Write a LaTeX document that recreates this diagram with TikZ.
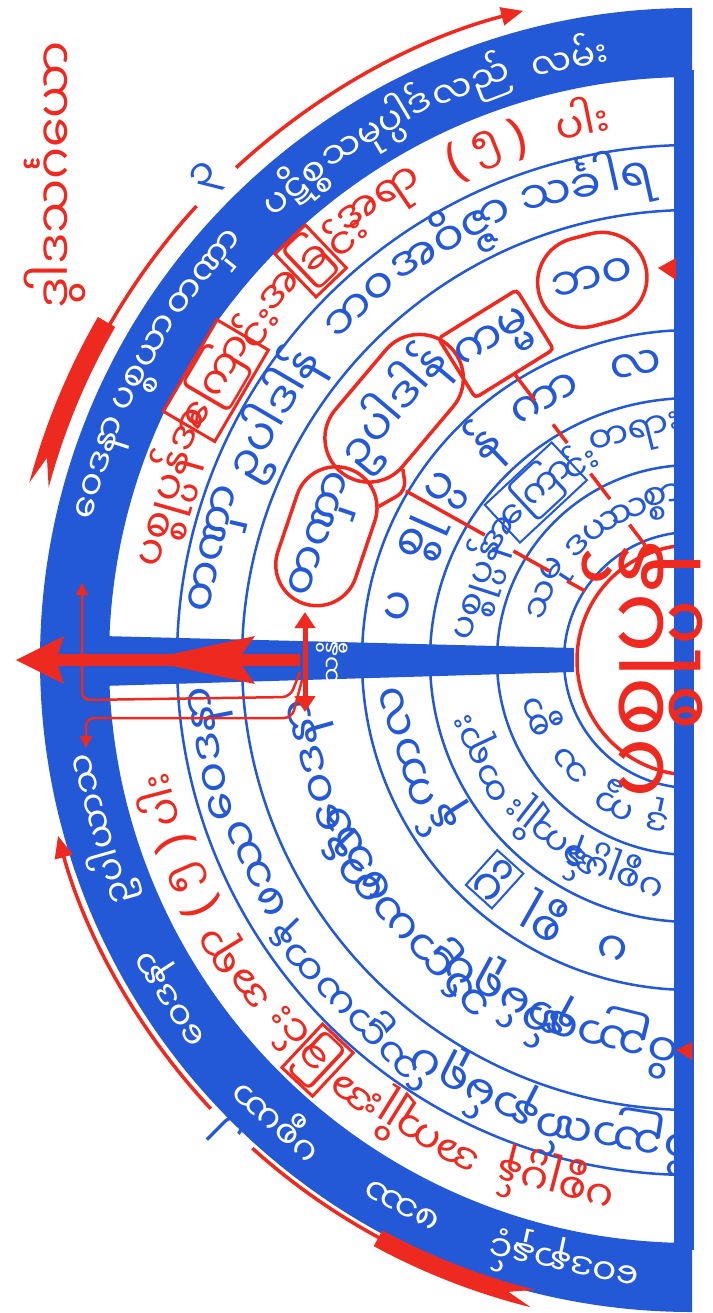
\documentclass[tikz,border=0pt]{standalone}
\usepackage{fontspec}
\newfontfamily\my[Script=Myanmar]{Noto Sans Myanmar UI}
\newfontfamily\lat{Noto Sans}
\usetikzlibrary{arrows.meta,shapes.misc,calc}
\definecolor{bl}{RGB}{35,88,215}
\definecolor{rd}{RGB}{238,42,32}
\newcommand\fs[1]{\fontsize{#1}{#1}\selectfont}
\newcommand\tn[5]{\node[#2,rotate=#3-90] (#1) at (#3:#4) {#5};}
\begin{document}
\begin{tikzpicture}[x=1pt,y=1pt,
 wt/.style={font=\my\fs{36},text=white,inner sep=0},
 rt/.style={font=\my\fs{42},text=rd,inner sep=0},
 pr/.style={font=\lat\fs{50},text=rd,inner sep=0},
 bt/.style={font=\my\fs{46},text=bl,inner sep=0},
 bm/.style={font=\my\fs{40},text=bl,inner sep=0},
 bs/.style={font=\my\fs{36},text=bl,inner sep=0},
 bx/.style={draw=rd,line width=3pt,inner sep=2pt},
 rbox/.style={draw=rd,line width=3.5pt,rounded rectangle,inner sep=0},
 sbox/.style={draw=rd,line width=3.5pt,rounded corners=4pt,inner sep=0},
 ring/.style={draw=bl,line width=2.5pt},
 rl/.style={draw=rd,line width=3.5pt},
]
\useasboundingbox (0,0) rectangle (712,-1313);
\fill[white] (0,0) rectangle (712,-1313);
\begin{scope}[shift={(692,-660)}]
% outer band
\fill[bl] (90:652) arc[start angle=90,end angle=270,radius=652] -- (270:583) arc[start angle=270,end angle=90,radius=583] -- cycle;
\foreach \r in {515,450,330,262,195,128} \draw[ring] (90:\r) arc[start angle=90,end angle=270,radius=\r];
\draw[rl] (90:115) arc[start angle=90,end angle=270,radius=115];
% divider and base
\fill[bl] (-590,24) -- (-118,12) -- (-118,-12) -- (-590,-26) -- cycle;
\fill[bl] (-18,590) rectangle (2,-590);
\node[font=\my\fs{24},text=white,inner sep=0,rotate=90] (dv) at (-360,-2) {သန္ဓိ};
% outer red arrows top
\fill[rd] (150:686) arc[start angle=150,end angle=165,radius=686] -- (162.6:676) -- (165:666) arc[start angle=165,end angle=150,radius=666] -- cycle;
\draw[rl] (150.5:672) arc[start angle=150.5,end angle=137.5,radius=672];
\node[font=\my\fs{40},text=bl,inner sep=0,rotate=45.2] (d3) at (135.2:682) {၃};
\draw[rl,-{Triangle[length=22pt,width=18pt]}] (132.8:671) arc[start angle=132.8,end angle=104.5,radius=669];
% outer red arrows bottom
\fill[rd] (241.5:667) arc[start angle=241.5,end angle=256,radius=667] -- (253.8:658) -- (256:649) arc[start angle=256,end angle=241.5,radius=649] -- cycle;
\draw[rl] (242:657) arc[start angle=242,end angle=228,radius=657];
\node[font=\my\fs{40},text=bl,inner sep=0,rotate=135.2] (d2) at (225.4:664) {၂};
\draw[rl,-{Triangle[length=22pt,width=18pt]}] (223:658) arc[start angle=223,end angle=195.5,radius=658];
% ---------- top half texts ----------
\tn{a1}{wt}{162}{617}{ဝေဒနာ}
\tn{a2}{wt}{151.5}{617}{ပစ္စယာ}
\tn{a3}{wt}{141.5}{617}{တဏှာ}
\tn{a4}{wt}{130}{617}{ပဋိစ္စ}
\tn{a5}{wt}{120.7}{617}{သမုပ္ပါဒ်}
\tn{a6}{wt}{111}{617}{လည်}
\tn{a7}{wt}{101.5}{617}{လမ်း}
% ring 2 top
\tn{b1}{rt}{164}{549}{ပစ္စုပ္ပန်}
\tn{b2}{rt}{155.4}{552}{အ}
\tn{b3}{rt,bx}{149.6}{552}{ကြော}
\tn{b4}{rt}{142.5}{550}{င်း}
\tn{b5}{rt}{138.1}{552}{အ}
\tn{b6}{rt,bx}{133.7}{552}{ခြ}
\tn{b7}{rt}{129.2}{550}{င်း}
\tn{b8}{rt}{124.2}{550}{အရာ}
\tn{b9}{pr}{115.4}{549}{(}
\tn{b10}{rt}{111.8}{549}{၅}
\tn{b11}{pr}{108.4}{549}{)}
\tn{b12}{rt}{101.5}{552}{ပါး}
% ring 3 top
\tn{c1}{bt}{166.9}{484}{တဏှာ}
\tn{c2}{bt}{149.6}{484}{ဥပါဒါန်}
\tn{c3}{bt}{133}{484}{ဘဝ}
\tn{c4}{bt}{119.8}{486}{အဝိဇ္ဇာ}
\tn{c5}{bt}{102.6}{486}{သင်္ခါရ}
% ring 4 top boxes
\tn{e1}{bt,rbox,minimum width=135pt,minimum height=82pt}{161.3}{386}{တဏှာ}
\tn{e2}{bt,rbox,minimum width=158pt,minimum height=88pt}{139.8}{390}{ဥပါဒါန်}
\tn{e3}{bt,sbox,minimum width=92pt,minimum height=70pt}{121.8}{372}{ကမ္မ}
\tn{e4}{bt,rbox,minimum width=110pt,minimum height=90pt}{104.7}{393}{ဘဝ}
% ring 5 top
\tn{f1}{bt}{169.6}{296}{ပ}
\tn{f2}{bt}{156}{294}{စ္စု}
\tn{f3}{bt}{145.5}{296}{ပ္ပ}
\tn{f4}{bt}{133.8}{298}{န်}
\tn{f5}{bt}{119.4}{298}{ကာ}
\tn{f6}{bt}{100.7}{298}{လ}
% ring 6 top
\tn{g1}{bs}{162}{226}{ပစ္စုပ္ပန်}
\tn{g2}{bs}{147}{229}{အ}
\tn{g3}{bs,draw=bl,line width=2pt,inner sep=2pt}{133}{229}{ကြော}
\tn{g4}{bs}{119.5}{229}{င်း}
\tn{g5}{bs}{104}{229}{တရား}
% ring 7 top
\tn{h1}{bs}{158}{160}{သ}
\tn{h2}{bs}{147}{160}{မု}
\tn{h3}{bs}{135}{160}{ဒ}
\tn{h4}{bs}{124}{160}{ယ}
\tn{h5}{bs}{113}{160}{သ}
\tn{h6}{bs}{100}{160}{စ္စာ}
% connectors top
\coordinate (J) at (-286,169);
\coordinate (JA) at (-107,69);
\coordinate (JB) at (-47,115);
\coordinate (KB) at (e3.south);
\draw[rl,rounded corners=10pt] (e1) -- (J) -- (e2);
\draw[rl] (J) -- ($(J)!0.44!(JA)$);
\draw[rl] ($(J)!0.6!(JA)$) -- ($(J)!0.8!(JA)$);
\draw[rl] ($(J)!0.9!(JA)$) -- (JA);
\draw[rl] (KB) -- ($(KB)!0.15!(JB)$);
\draw[rl] ($(KB)!0.29!(JB)$) -- ($(KB)!0.4!(JB)$);
\draw[rl] ($(KB)!0.58!(JB)$) -- ($(KB)!0.73!(JB)$);
\draw[rl] ($(KB)!0.88!(JB)$) -- (JB);
% ---------- bottom half texts ----------
\tn{p1}{wt}{258}{615}{ဝေဒနာနှင့်}
\tn{p2}{wt}{242}{615}{ဖဿ}
\tn{p3}{wt}{228}{615}{ပစ္စယာ}
\tn{p4}{wt}{213}{615}{ဝေဒနာ}
\tn{p5}{wt}{196}{615}{ဥပါယာသ}
% ring 2 bottom
\tn{q1}{rt}{255.4}{540}{ပစ္စုပ္ပန်}
\tn{q2}{rt}{244.6}{545}{အ}
\tn{q3}{rt}{238}{545}{ကျိုး}
\tn{q4}{rt}{231.9}{548}{အ}
\tn{q5}{rt,bx}{226.9}{548}{ခြ}
\tn{q6}{rt}{222.3}{548}{င်း}
\tn{q7}{rt}{216.6}{548}{အ}
\tn{q8}{rt}{211.7}{548}{ရာ}
\tn{q9}{pr}{206.7}{549}{(}
\tn{q10}{rt}{203.2}{549}{၅}
\tn{q11}{pr}{199.5}{549}{)}
\tn{q12}{rt}{194.8}{552}{ပါး}
% ring 3 bottom
\tn{r1}{bt}{260.8}{482}{ဝိညာဏ်}
\tn{r2}{bt}{243}{480}{နာမ်ရုပ်}
\tn{r3}{bm}{224.5}{481}{သဠာယတန}
\tn{r4}{bt}{205.5}{480}{ဖဿ}
\tn{r5}{bt}{191}{482}{ဝေဒနာ}
% ring 4 bottom
\tn{s1}{bt}{256.2}{385}{ဝိညာဏ်}
\tn{s2}{bt}{241.4}{383}{နာမ်ရုပ်}
\tn{s3}{bt}{222.9}{383}{သဠာယတန}
\tn{s4}{bt}{210}{383}{ဖဿ}
\tn{s5}{bt}{195.6}{383}{ဝေဒနာ}
% ring 5 bottom
\tn{u1}{bt}{254.5}{295}{ပ}
\tn{u2}{bt}{240.4}{295}{စ္စု}
\tn{u3}{bt,draw=bl,line width=2pt,inner sep=2pt}{228}{295}{ပ္ပ}
\tn{u4}{bt}{212.4}{295}{န်}
\tn{u5}{bt}{197}{295}{ကာလ}
% ring 6 bottom
\tn{v1}{bs}{250}{226}{ပစ္စုပ္ပန်}
\tn{v2}{bs}{232}{226}{အကျိုး}
\tn{v3}{bs}{205}{226}{တရား}
% ring 7 bottom
\tn{w1}{bs}{258}{158}{ဒု}
\tn{w2}{bs}{242}{158}{က္ခ}
\tn{w3}{bs}{221}{158}{သ}
\tn{w4}{bs}{200}{158}{စ္စာ}
% center
\node[font=\my\fs{90},text=rd,inner sep=0,rotate=90] (ctr) at (-50,-10) {ပစ္စုပ္ပန်};
\end{scope}
% arrow group
\fill[rd] (16,-660) -- (64,-636) -- (58,-654) -- (300,-654) -- (300,-666) -- (58,-666) -- (64,-684) -- cycle;
\fill[rd] (145,-660) -- (255,-636) -- (238,-660) -- (255,-684) -- cycle;
\coordinate (vt) at (305,-612);
\coordinate (vb) at (305,-712);
\draw[rd,line width=5pt,{Triangle[length=16pt,width=20pt]}-{Triangle[length=16pt,width=20pt]}] (vt) -- (vb);
\draw[rd,line width=2.5pt,rounded corners=8pt,-{Triangle[length=12pt,width=12pt]}] (300,-672) -- (290,-697) -- (82,-700) -- (82,-583);
\draw[rd,line width=2.5pt,rounded corners=8pt,-{Triangle[length=12pt,width=12pt]}] (302,-680) -- (292,-718) -- (86,-718) -- (86,-748);
\fill[rd] (658,-268) -- (676,-258) -- (676,-280) -- cycle;
\fill[rd] (676,-1050) -- (692,-1042) -- (692,-1060) -- cycle;
% left title
\node[font=\my\fs{48},text=rd,inner sep=0,rotate=90] (ttl) at (55,-175) {ဒွါဒသင်္ဂယော};
\end{tikzpicture}
\end{document}
